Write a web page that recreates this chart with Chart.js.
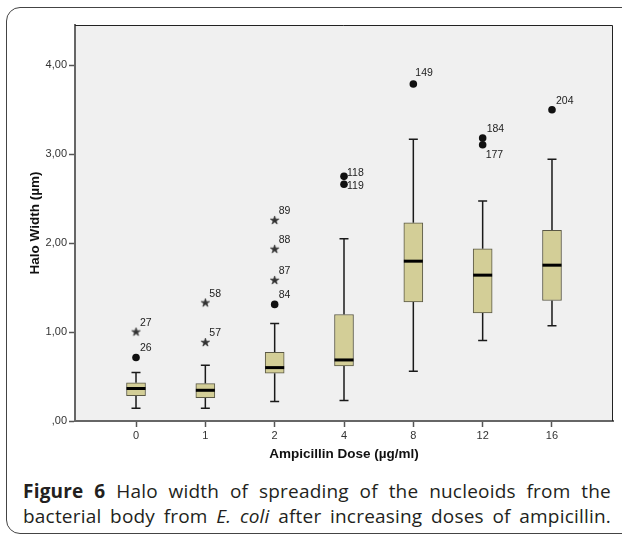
<!DOCTYPE html>
<html>
<head>
<meta charset="utf-8">
<script src="https://cdn.jsdelivr.net/npm/chart.js@4.4.1/dist/chart.umd.min.js"></script>
<style>
  html, body { margin: 0; padding: 0; background: #fff; }
  body { width: 622px; height: 537px; position: relative; overflow: hidden; }
  #frame { position: absolute; left: 6px; top: 7px; width: 640px; height: 527px; border: 1.5px solid #444; border-radius: 14px; box-sizing: border-box; }
  #graphicBox { position: absolute; left: 0; top: 0; }
  #caption { position: absolute; left: 23px; top: 479px; width: 588px; font-family: "Open Sans", sans-serif; font-size: 19px; letter-spacing: 0.2px; line-height: 25px; color: #231f20; text-align: justify; text-align-last: justify; white-space: nowrap; }
</style>
</head>
<body>
<div id="frame"></div>
<canvas id="graphicBox" width="622" height="470"></canvas>
<div id="caption"><b>Figure 6</b> Halo width of spreading of the nucleoids from the<br>bacterial body from <i>E. coli</i> after increasing doses of ampicillin.</div>
<script>
// boxplot per dose (µm)
const doses = ["0", "1", "2", "4", "8", "12", "16"];
const whiskerLow = [0.143, 0.143, 0.218, 0.229, 0.559, 0.904, 1.069];
const quart1 = [0.285, 0.263, 0.537, 0.619, 1.339, 1.215, 1.354];
const medians = [0.365, 0.345, 0.600, 0.686, 1.796, 1.639, 1.751];
const quart3 = [0.430, 0.420, 0.773, 1.197, 2.227, 1.935, 2.142];
const whiskerHigh = [0.545, 0.627, 1.095, 2.047, 3.165, 2.471, 2.940];

// outliers (circles) and extremes (stars): case id, dose index, value
const circleIds = ["26", "84", "118", "119", "149", "184", "177", "204"];
const circleGroup = [0, 2, 3, 3, 4, 5, 5, 6];
const circleValues = [0.713, 1.31, 2.749, 2.66, 3.787, 3.18, 3.105, 3.498];
const starIds = ["27", "57", "58", "87", "88", "89"];
const starGroup = [0, 1, 1, 2, 2, 2];
const starValues = [1.00, 0.882, 1.327, 1.58, 1.93, 2.254];

const yTicks = [0, 1, 2, 3, 4];

// where the case numbers sit next to their marker
const labelNudge = { "118": [3, -3], "119": [3, 2], "177": [3, 10], "149": [2, -11] };

Chart.defaults.font.family = "'Liberation Sans', Arial, sans-serif";

function starImage() {
  const c = document.createElement("canvas");
  c.width = 11;
  c.height = 11;
  const g = c.getContext("2d");
  g.beginPath();
  for (let k = 0; k < 10; k++) {
    const r = k % 2 === 0 ? 4.4 : 1.6;
    const a = -Math.PI / 2 + k * Math.PI / 5;
    const px = 5.5 + r * Math.cos(a), py = 5.5 + r * Math.sin(a);
    if (k === 0) g.moveTo(px, py); else g.lineTo(px, py);
  }
  g.closePath();
  g.fillStyle = "#333";
  g.fill();
  g.strokeStyle = "#222";
  g.lineWidth = 0.7;
  g.stroke();
  return c;
}

const boxExtras = {
  id: "boxExtras",
  beforeDraw(chart) {
    const a = chart.chartArea, ctx = chart.ctx;
    ctx.save();
    ctx.fillStyle = "#f0f0f0";
    ctx.fillRect(a.left, a.top, a.right - a.left, a.bottom - a.top);
    ctx.restore();
  },
  beforeDatasetsDraw(chart) {
    const ctx = chart.ctx, xs = chart.scales.x, ys = chart.scales.y;
    ctx.save();
    ctx.strokeStyle = "#1a1a1a";
    ctx.lineWidth = 1.5;
    doses.forEach((d, i) => {
      const px = xs.getPixelForValue(i);
      const lo = ys.getPixelForValue(whiskerLow[i]);
      const hi = ys.getPixelForValue(whiskerHigh[i]);
      ctx.beginPath();
      ctx.moveTo(px, lo); ctx.lineTo(px, ys.getPixelForValue(quart1[i]));
      ctx.moveTo(px, ys.getPixelForValue(quart3[i])); ctx.lineTo(px, hi);
      ctx.moveTo(px - 4.5, lo); ctx.lineTo(px + 4.5, lo);
      ctx.moveTo(px - 4.5, hi); ctx.lineTo(px + 4.5, hi);
      ctx.stroke();
    });
    ctx.restore();
  },
  afterDatasetsDraw(chart) {
    const ctx = chart.ctx, xs = chart.scales.x, ys = chart.scales.y, a = chart.chartArea;
    ctx.save();
    // medians
    ctx.strokeStyle = "#000";
    ctx.lineWidth = 3;
    medians.forEach((m, i) => {
      const px = xs.getPixelForValue(i), py = ys.getPixelForValue(m);
      ctx.beginPath();
      ctx.moveTo(px - 9.5, py);
      ctx.lineTo(px + 9.5, py);
      ctx.stroke();
    });
    // case labels
    ctx.fillStyle = "#222";
    ctx.font = "10.5px 'Liberation Sans', Arial, sans-serif";
    ctx.textAlign = "left";
    ctx.textBaseline = "middle";
    [[1, circleIds], [2, starIds]].forEach(([idx, ids]) => {
      chart.getDatasetMeta(idx).data.forEach((el, j) => {
        const n = labelNudge[ids[j]] || [4, -9];
        ctx.fillText(ids[j], el.x + n[0], el.y + n[1]);
      });
    });
    // plot frame top/right
    ctx.strokeStyle = "#222";
    ctx.lineWidth = 1;
    ctx.beginPath();
    ctx.moveTo(a.left, a.top + 0.5);
    ctx.lineTo(a.right - 0.5, a.top + 0.5);
    ctx.lineTo(a.right - 0.5, a.bottom);
    ctx.stroke();
    ctx.restore();
  }
};

const graphicBox = document.getElementById("graphicBox");

new Chart(graphicBox, {
  type: "bar",
  data: {
    datasets: [
      {
        type: "bar",
        data: quart1.map((q, i) => ({ x: i, y: [q, quart3[i]] })),
        backgroundColor: "#d3ce97",
        borderColor: "#5a5845",
        borderWidth: 1,
        borderSkipped: false,
        barThickness: 19,
      },
      {
        type: "scatter",
        data: circleValues.map((v, i) => ({ x: circleGroup[i], y: v })),
        pointStyle: "circle",
        pointRadius: 3.8,
        backgroundColor: "#111",
        borderColor: "#111",
        borderWidth: 0,
      },
      {
        type: "scatter",
        data: starValues.map((v, i) => ({ x: starGroup[i], y: v })),
        pointStyle: starImage(),
        pointRadius: 5,
      },
    ],
  },
  options: {
    responsive: false,
    animation: false,
    events: [],
    layout: { padding: { left: 0, right: 9, top: 25, bottom: 0 } },
    plugins: {
      legend: { display: false },
      tooltip: { enabled: false },
    },
    scales: {
      x: {
        type: "linear",
        min: -0.88,
        max: 6.88,
        offset: false,
        afterFit(s) { s.height = 49; },
        afterBuildTicks(s) { s.ticks = doses.map((d, i) => ({ value: i })); },
        ticks: {
          callback: (v) => doses[v],
          autoSkip: false,
          maxRotation: 0,
          color: "#333",
          font: { size: 11 },
          padding: 2,
        },
        grid: { drawOnChartArea: false, offset: false, tickLength: 6, tickColor: "#555", tickWidth: 1.5 },
        border: { color: "#666", width: 2 },
        title: {
          display: true,
          text: "Ampicillin Dose (µg/ml)",
          color: "#111",
          font: { size: 13.5, weight: "bold" },
          padding: { top: 0, bottom: 8 },
        },
      },
      y: {
        min: 0,
        max: 4.45,
        afterFit(s) { s.width = 75; },
        afterBuildTicks(s) { s.ticks = yTicks.map((v) => ({ value: v })); },
        ticks: {
          callback: (v) => v.toFixed(2).replace(".", ",").replace(/^0,/, ","),
          color: "#333",
          font: { size: 11 },
          padding: 2,
        },
        grid: { drawOnChartArea: false, tickLength: 6, tickColor: "#555", tickWidth: 1.5 },
        border: { color: "#666", width: 2 },
        title: {
          display: true,
          text: "Halo Width (µm)",
          color: "#111",
          font: { size: 13.5, weight: "bold" },
          padding: { top: 27, bottom: 0 },
        },
      },
    },
  },
  plugins: [boxExtras],
});
</script>
</body>
</html>
